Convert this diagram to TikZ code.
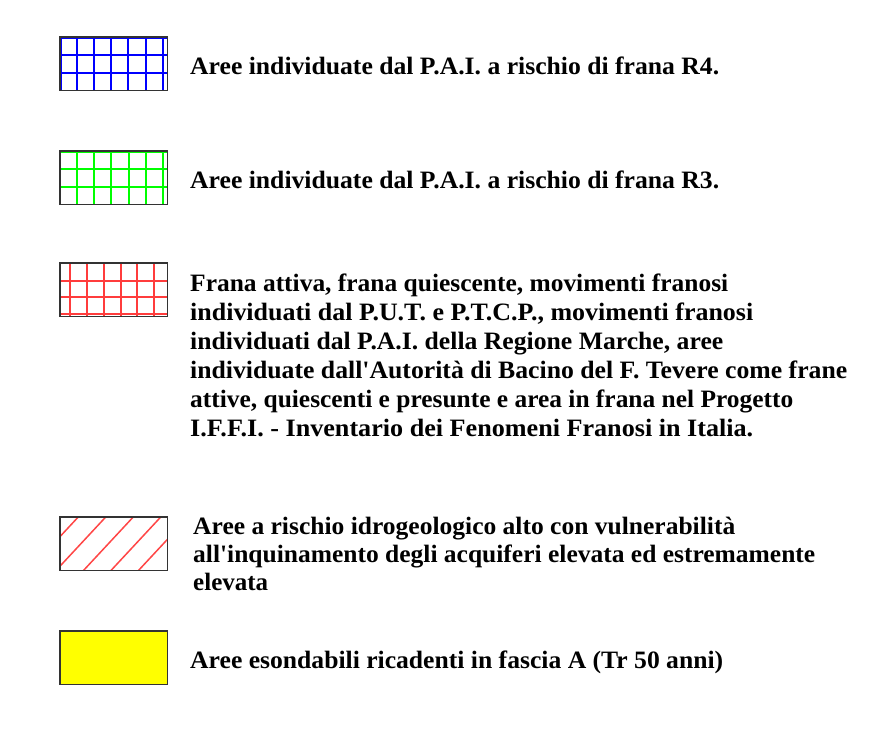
\documentclass[tikz,border=0pt]{standalone}
\usepackage{fontspec}
\setmainfont{Liberation Serif}
\usepackage{graphicx}
\definecolor{gridblue}{RGB}{0,0,255}
\definecolor{gridgreen}{RGB}{0,255,0}
\definecolor{gridred}{RGB}{255,60,60}
\definecolor{hatchred}{RGB}{255,70,70}
\definecolor{swyellow}{RGB}{255,255,0}
\newcommand{\fitline}[2]{\resizebox{#1}{\height}{#2}}
\begin{document}
\begin{tikzpicture}[x=1pt,y=-1pt,
  swatch/.style={rectangle,minimum width=107pt,minimum height=53pt,inner sep=0pt,anchor=north west},
  frame/.style={draw=black!80,line width=1.4pt},
  gridline/.style={line width=2pt},
  lab/.style={anchor=base west,inner sep=0pt,font=\bfseries\fontsize{25}{25}\selectfont}]
\useasboundingbox (0,0) rectangle (883,728);
% swatch 1 blue grid
\node[swatch] (s1) at (60,37) {};
\begin{scope}
\clip (s1.south west) rectangle (s1.north east);
\foreach \x in {61,77,94,111,128,146,163}
  \draw[gridline,gridblue] (\x,37) -- (\x,90);
\foreach \y in {38,55,73}
  \draw[gridline,gridblue] (60,\y) -- (167,\y);
\end{scope}
\draw[frame] (s1.south west) rectangle (s1.north east);
% swatch 2 green grid
\node[swatch] (s2) at (60,151) {};
\begin{scope}
\clip (s2.south west) rectangle (s2.north east);
\foreach \x in {77,94,111,129,146,163}
  \draw[gridline,gridgreen] (\x,151) -- (\x,204);
\foreach \y in {152,169,187}
  \draw[gridline,gridgreen] (60,\y) -- (167,\y);
\end{scope}
\draw[frame] (s2.south west) rectangle (s2.north east);
% swatch 3 red grid
\node[swatch] (s3) at (60,263) {};
\begin{scope}
\clip (s3.south west) rectangle (s3.north east);
\foreach \x in {70,87,104,121,137,154}
  \draw[gridline,gridred] (\x,263) -- (\x,316);
\foreach \y in {281,297,314}
  \draw[gridline,gridred] (60,\y) -- (167,\y);
\end{scope}
\draw[frame] (s3.south west) rectangle (s3.north east);
% swatch 4 hatch
\node[swatch] (s4) at (60,517) {};
\begin{scope}
\clip (s4.south west) rectangle (s4.north east);
\foreach \x in {28,55.5,83,110.5,138}
  \draw[line width=1.5pt,hatchred] (\x,571) -- ++(60,-64.5);
\end{scope}
\draw[frame] (s4.south west) rectangle (s4.north east);
% swatch 5 yellow
\node[swatch,fill=swyellow] (s5) at (60,631) {};
\draw[frame] (s5.south west) rectangle (s5.north east);
% labels
\node[lab] (t1) at (190,74) {\fitline{529pt}{Aree individuate dal P.A.I. a rischio di frana R4.}};
\node[lab] (t2) at (190,188) {\fitline{529pt}{Aree individuate dal P.A.I. a rischio di frana R3.}};
\node[lab] (t3a) at (190,291) {\fitline{538pt}{Frana attiva, frana quiescente, movimenti franosi}};
\node[lab] (t3b) at (190,320) {\fitline{563pt}{individuati dal P.U.T. e P.T.C.P., movimenti franosi}};
\node[lab] (t3c) at (190,349) {\fitline{533pt}{individuati dal P.A.I. della Regione Marche, aree}};
\node[lab] (t3d) at (190,378) {\fitline{657pt}{individuate dall\textquotesingle Autorità di Bacino del F. Tevere come frane}};
\node[lab] (t3e) at (190,407) {\fitline{603pt}{attive, quiescenti e presunte e area in frana nel Progetto}};
\node[lab] (t3f) at (190,436) {\fitline{563pt}{I.F.F.I. - Inventario dei Fenomeni Franosi in Italia.}};
\node[lab] (t4a) at (193,534) {\fitline{542pt}{Aree a rischio idrogeologico alto con vulnerabilità}};
\node[lab] (t4b) at (193,562) {\fitline{622pt}{all\textquotesingle inquinamento degli acquiferi elevata ed estremamente}};
\node[lab] (t4c) at (193,590) {\fitline{75pt}{elevata}};
\node[lab] (t5) at (190,668) {\fitline{533pt}{Aree esondabili ricadenti in fascia A (Tr 50 anni)}};
\end{tikzpicture}
\end{document}
